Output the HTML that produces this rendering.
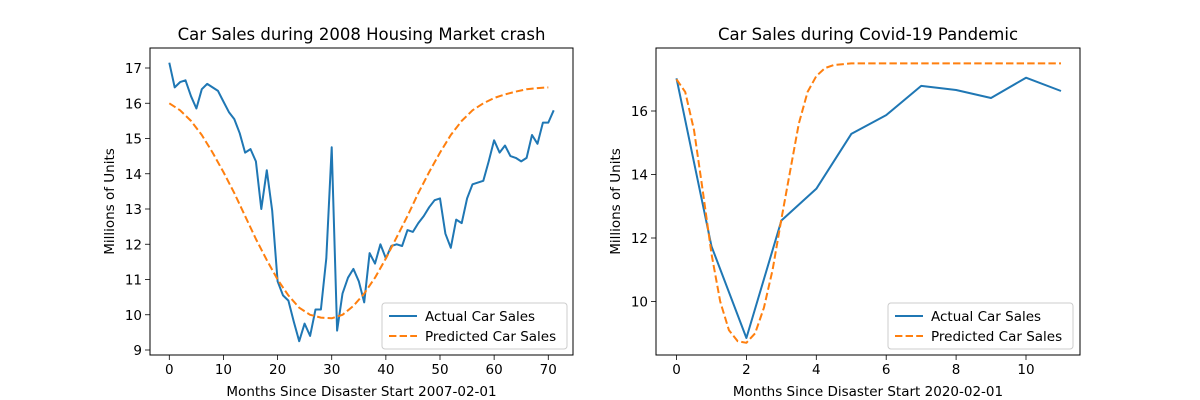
<!DOCTYPE html>
<html><head><meta charset="utf-8"><style>
body{margin:0;background:#fff}
svg{display:block;font-family:"DejaVu Sans","Liberation Sans",sans-serif}
</style></head><body>
<svg id="fig" width="1200" height="400" xmlns="http://www.w3.org/2000/svg"></svg>
<script>
// Left chart data
const leftMonths = Array.from({length:72},(_, i)=>i);
const leftActual = [17.15,16.45,16.6,16.65,16.2,15.85,16.4,16.55,16.45,16.35,16.05,15.75,15.55,15.15,14.6,14.7,14.35,13.0,14.1,12.95,10.95,10.55,10.4,9.8,9.25,9.75,9.4,10.15,10.15,11.6,14.75,9.55,10.6,11.05,11.3,10.95,10.35,11.75,11.45,12.0,11.6,11.95,12.0,11.95,12.4,12.35,12.6,12.8,13.05,13.25,13.3,12.3,11.9,12.7,12.6,13.3,13.7,13.75,13.8,14.35,14.95,14.6,14.8,14.5,14.45,14.35,14.45,15.1,14.85,15.45,15.45,15.8];
const leftPredX = [0,2,4,6,8,10,12,14,16,18,20,22,24,26,28,30,32,34,36,38,40,42,44,46,48,50,52,54,56,58,60,62,64,66,68,70];
const leftPred = [16.0,15.8,15.5,15.1,14.6,14.05,13.45,12.8,12.15,11.55,11.0,10.55,10.2,10.0,9.92,9.9,10.0,10.25,10.6,11.05,11.6,12.2,12.8,13.45,14.05,14.6,15.1,15.5,15.8,16.0,16.15,16.25,16.33,16.4,16.43,16.45];
const leftXTicks = [0,10,20,30,40,50,60,70];
const leftYTicks = [9,10,11,12,13,14,15,16,17];
// Right chart data
const rightMonths = [0,1,2,3,4,5,6,7,8,9,10,11];
const rightActual = [17.03,11.74,8.85,12.55,13.55,15.28,15.87,16.79,16.66,16.41,17.05,16.63];
const rightPredX = [0,0.25,0.5,0.75,1,1.25,1.5,1.75,2,2.25,2.5,2.75,3,3.25,3.5,3.75,4,4.25,4.5,5,6,7,8,9,10,11];
const rightPred = [17.0,16.6,15.4,13.5,11.5,10.0,9.1,8.75,8.7,9.0,9.8,11.0,12.6,14.1,15.6,16.6,17.1,17.35,17.45,17.5,17.5,17.5,17.5,17.5,17.5,17.5];
const rightXTicks = [0,2,4,6,8,10];
const rightYTicks = [10,12,14,16];

const NS="http://www.w3.org/2000/svg";
const svg=document.getElementById('fig');
function mk(tag,attrs,parent,text){const e=document.createElementNS(NS,tag);for(const k in attrs)e.setAttribute(k,attrs[k]);if(text!==undefined)e.textContent=text;(parent||svg).appendChild(e);return e;}

function chart(o){
  const g=mk('g',{});
  
  
  const sx=v=>o.x0px+(v-o.x0v)*o.xs, sy=v=>o.y0px-(v-o.y0v)*o.ys;
  // ticks
  o.xt.forEach(t=>{
    const l=mk('line',{x1:sx(t),x2:sx(t),y1:o.bottom,y2:o.bottom+5,stroke:'#000','stroke-width':0.8},g);
    
    
    const tx=mk('text',{x:sx(t),y:o.bottom+19,'text-anchor':'middle','font-size':13.5},g,String(t));
    
    
  });
  o.yt.forEach(t=>{
    const l=mk('line',{x1:o.left-5,x2:o.left,y1:sx?sy(t):0,y2:sy(t),stroke:'#000','stroke-width':0.8},g);
    
    
    const tx=mk('text',{x:o.left-8,y:sy(t)+5,'text-anchor':'end','font-size':13.5},g,String(t));
    
    
  });
  // lines
  const pa=o.ax.map((x,i)=>sx(x).toFixed(1)+','+sy(o.ay[i]).toFixed(1)).join(' ');
  const pl=mk('polyline',{points:pa,fill:'none',stroke:'#1f77b4','stroke-width':2,'stroke-linejoin':'round'},g);
  
  
  const pb=o.px.map((x,i)=>sx(x).toFixed(1)+','+sy(o.py[i]).toFixed(1)).join(' ');
  const pp=mk('polyline',{points:pb,fill:'none',stroke:'#ff7f0e','stroke-width':2,'stroke-dasharray':'7.4,3.2','stroke-linejoin':'round'},g);
  
  
  // frame
  const fr=mk('rect',{x:o.left,y:o.top,width:o.right-o.left,height:o.bottom-o.top,fill:'none',stroke:'#000','stroke-width':1},g);
  
  
  // title and labels
  const cx=(o.left+o.right)/2;
  const ti=mk('text',{x:cx,y:40,'text-anchor':'middle','font-size':16.5},g,o.title);
  
  
  const xl=mk('text',{x:cx,y:396,'text-anchor':'middle','font-size':13.5},g,o.xlabel);
  
  
  const yl=mk('text',{x:0,y:0,'text-anchor':'middle','font-size':13.5,transform:`translate(${o.ylx},${(o.top+o.bottom)/2}) rotate(-90)`},g,'Millions of Units');
  
  
  // legend
  const lg=mk('g',{},g);
  
  
  mk('rect',{x:o.lx,y:303,width:185,height:46,rx:3,fill:'#fff','fill-opacity':0.8,stroke:'#ccc'},lg);
  mk('line',{x1:o.lx+7,x2:o.lx+35,y1:316,y2:316,stroke:'#1f77b4','stroke-width':2},lg);
  const e1=mk('text',{x:o.lx+43,y:321,'font-size':13.5},lg,'Actual Car Sales');
  
  
  mk('line',{x1:o.lx+7,x2:o.lx+35,y1:336,y2:336,stroke:'#ff7f0e','stroke-width':2,'stroke-dasharray':'7.4,3.2'},lg);
  const e2=mk('text',{x:o.lx+43,y:341,'font-size':13.5},lg,'Predicted Car Sales');
  
  
}
chart({name:'housing-crash-chart',left:150,right:573,top:48,bottom:355,x0px:169.3,x0v:0,xs:5.414,y0px:350,y0v:9,ys:35.25,
  xt:leftXTicks,yt:leftYTicks,ax:leftMonths,ay:leftActual,px:leftPredX,py:leftPred,
  title:'Car Sales during 2008 Housing Market crash',xlabel:'Months Since Disaster Start 2007-02-01',ylx:114,lx:382});
chart({name:'covid-chart',left:656,right:1080,top:48,bottom:355,x0px:676.5,x0v:0,xs:34.95,y0px:301.5,y0v:10,ys:31.75,
  xt:rightXTicks,yt:rightYTicks,ax:rightMonths,ay:rightActual,px:rightPredX,py:rightPred,
  title:'Car Sales during Covid-19 Pandemic',xlabel:'Months Since Disaster Start 2020-02-01',ylx:620,lx:888});
</script>
</body></html>
